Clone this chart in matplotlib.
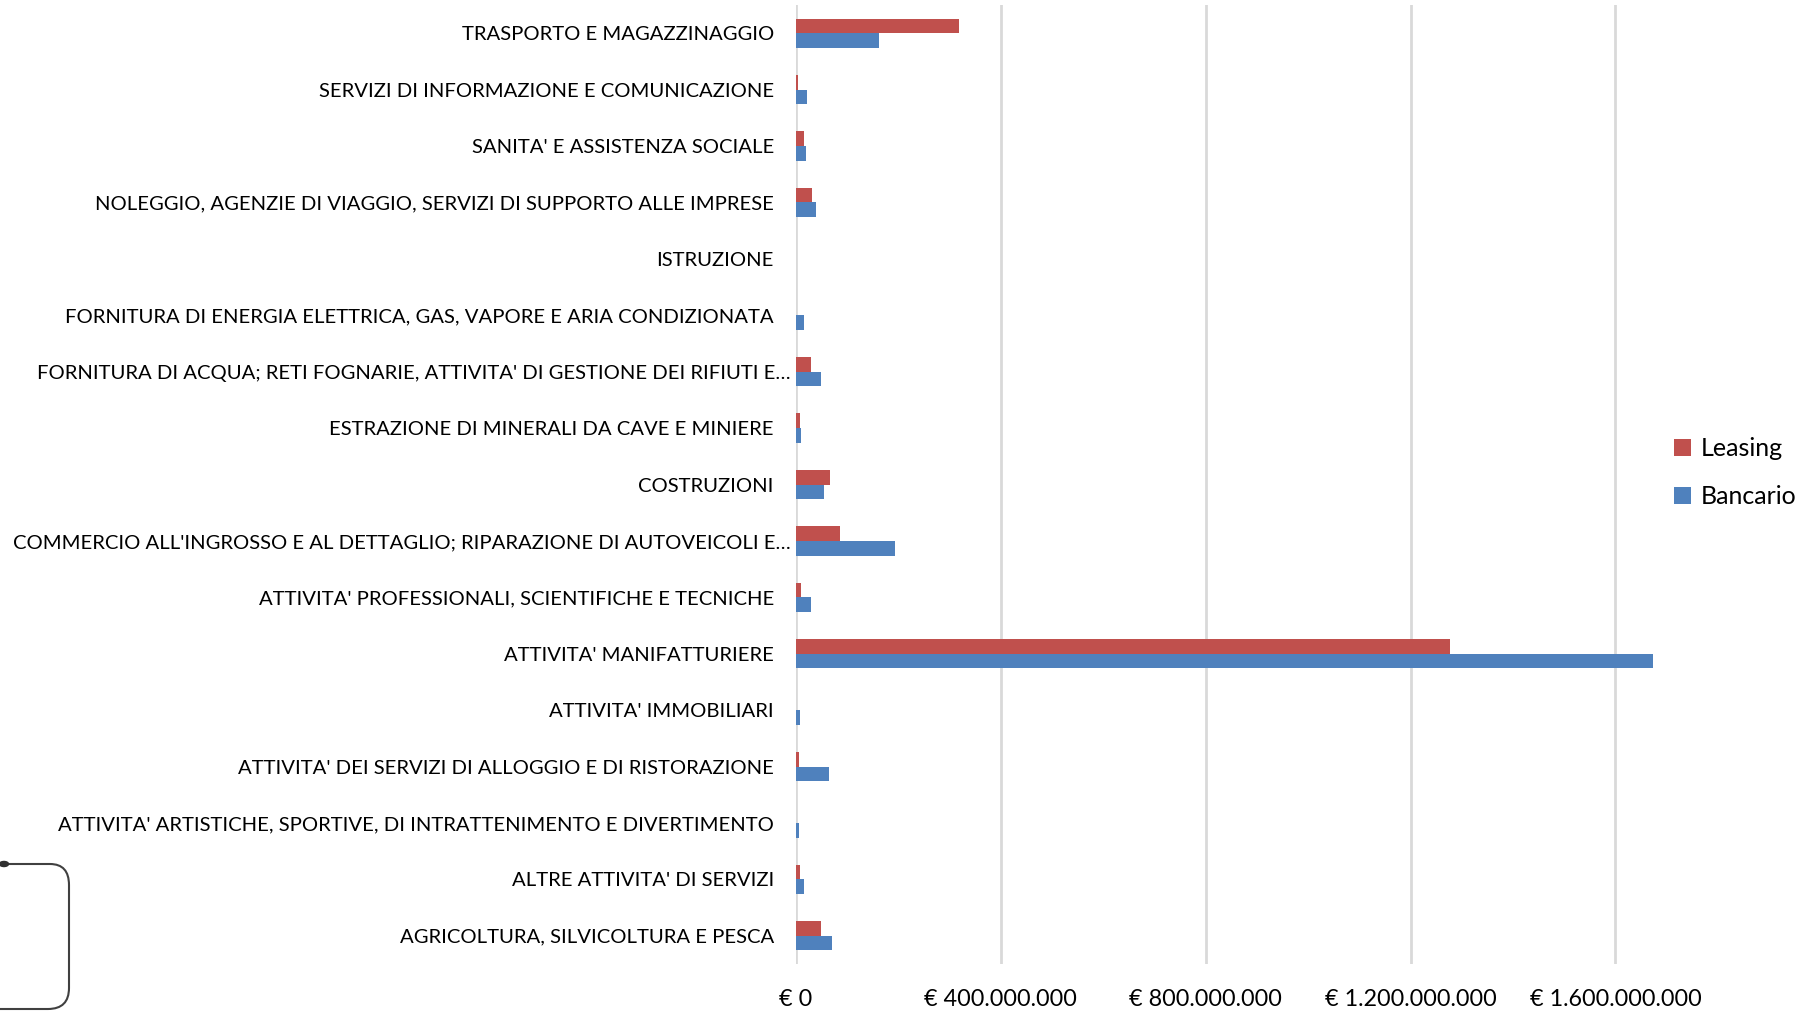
import matplotlib.pyplot as plt
from matplotlib.path import Path
from matplotlib.patches import PathPatch
from matplotlib.ticker import FuncFormatter
import numpy as np

# Settori (dall'alto verso il basso)
settori = [
    "TRASPORTO E MAGAZZINAGGIO",
    "SERVIZI DI INFORMAZIONE E COMUNICAZIONE",
    "SANITA' E ASSISTENZA SOCIALE",
    "NOLEGGIO, AGENZIE DI VIAGGIO, SERVIZI DI SUPPORTO ALLE IMPRESE",
    "ISTRUZIONE",
    "FORNITURA DI ENERGIA ELETTRICA, GAS, VAPORE E ARIA CONDIZIONATA",
    "FORNITURA DI ACQUA; RETI FOGNARIE, ATTIVITA' DI GESTIONE DEI RIFIUTI E…",
    "ESTRAZIONE DI MINERALI DA CAVE E MINIERE",
    "COSTRUZIONI",
    "COMMERCIO ALL'INGROSSO E AL DETTAGLIO; RIPARAZIONE DI AUTOVEICOLI E…",
    "ATTIVITA' PROFESSIONALI, SCIENTIFICHE E TECNICHE",
    "ATTIVITA' MANIFATTURIERE",
    "ATTIVITA' IMMOBILIARI",
    "ATTIVITA' DEI SERVIZI DI ALLOGGIO E DI RISTORAZIONE",
    "ATTIVITA' ARTISTICHE, SPORTIVE, DI INTRATTENIMENTO E DIVERTIMENTO",
    "ALTRE ATTIVITA' DI SERVIZI",
    "AGRICOLTURA, SILVICOLTURA E PESCA",
]

# Valori in euro
leasing = [318e6, 4.5e6, 15.5e6, 30.5e6, 0, 0, 29e6, 7.8e6, 67e6, 85e6,
           10e6, 1276e6, 0.6e6, 6e6, 0.6e6, 8.4e6, 49e6]
bancario = [163e6, 21e6, 20e6, 38.5e6, 0, 15e6, 48e6, 9.8e6, 55e6, 193e6,
            29e6, 1673e6, 7.8e6, 65e6, 6e6, 15.6e6, 70e6]

tick_vals = [0, 400e6, 800e6, 1200e6, 1600e6]

col_leasing = "#C0504D"
col_bancario = "#4F81BD"

plt.rcParams['font.family'] = ['Lato', 'DejaVu Sans']

fig = plt.figure(figsize=(18.14, 10.11), dpi=100)
ax = fig.add_axes([0.4388, 0.0465, 0.48, 0.9485])

y = np.arange(len(settori))
h = 0.26
ax.barh(y - h / 2, leasing, height=h, color=col_leasing, label="Leasing", zorder=3)
ax.barh(y + h / 2, bancario, height=h, color=col_bancario, label="Bancario", zorder=3)

ax.set_ylim(len(settori) - 0.5, -0.5)
ax.set_xlim(0, 1.7e9)
ax.set_yticks(y)
ax.set_yticklabels(settori, fontsize=14.6)
ax.set_xticks(tick_vals)
ax.xaxis.set_major_formatter(FuncFormatter(lambda v, p: "€ " + f"{int(v):,}".replace(",", ".")))
ax.tick_params(axis='x', labelsize=16.8, length=0, pad=18)
ax.tick_params(axis='y', length=0, pad=16)
# le etichette troncate stanno più vicine all'asse
for tick, s in zip(ax.yaxis.get_major_ticks(), settori):
    if s.endswith("…"):
        tick.set_pad(4)
ax.grid(axis='x', color='#d9d9d9', linewidth=2, zorder=0)
for s in ax.spines.values():
    s.set_visible(False)

ax.legend(loc='center left', bbox_to_anchor=(0.982, 0.5125), frameon=False, fontsize=18,
          handlelength=0.7, handleheight=0.7, handletextpad=0.4, labelspacing=1.0)

# forma decorativa in basso a sinistra
W, H = 1814, 1011
pts = [(4, 864), (50, 864), (69, 864), (69, 885), (69, 988), (69, 1009), (48, 1009), (0, 1009)]
codes = [Path.MOVETO, Path.LINETO, Path.CURVE3, Path.CURVE3, Path.LINETO,
         Path.CURVE3, Path.CURVE3, Path.LINETO]
verts = [(px / W, 1 - py / H) for px, py in pts]
fig.patches.append(PathPatch(Path(verts, codes), transform=fig.transFigure,
                             fill=False, edgecolor='#404040', linewidth=1.5))
fig.patches.append(plt.Circle((4 / W, 1 - 864 / H), 0.0025, transform=fig.transFigure,
                              color='#303030'))

fig.savefig("out.png", dpi=100)
